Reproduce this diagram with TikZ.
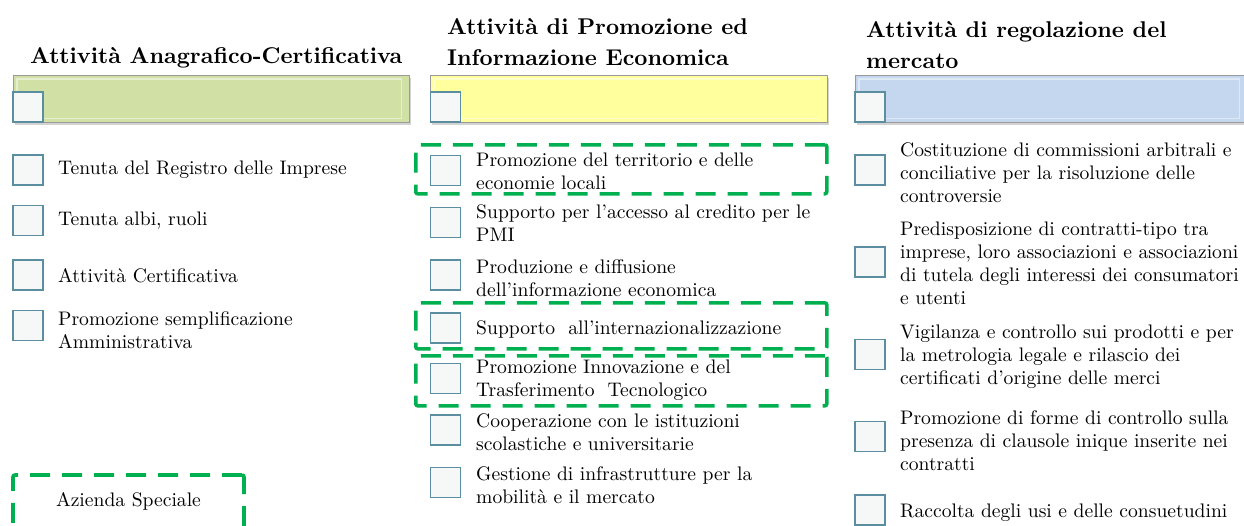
\documentclass[tikz,border=0pt]{standalone}
\usepackage{fontspec}
\setmainfont{lmroman10}[Extension=.otf, UprightFont=*-regular, BoldFont=*-bold, ItalicFont=*-italic, BoldItalicFont=*-bolditalic]
\usetikzlibrary{shadows}
\definecolor{bargreen}{HTML}{D1E1A6}
\definecolor{baryellow}{HTML}{FFFF9E}
\definecolor{barblue}{HTML}{C4D7EE}
\definecolor{sqedge}{HTML}{5A8EA0}
\definecolor{sqfill}{HTML}{F6F8F8}
\definecolor{dgreen}{HTML}{00B050}
\definecolor{bedge}{HTML}{9A9A9A}
\begin{document}
\begin{tikzpicture}[x=1pt,y=-1pt,
  bar/.style={draw=bedge, line width=0.8pt, minimum height=47pt, anchor=north west, inner sep=0pt,
    drop shadow={opacity=0.35, shadow xshift=2pt, shadow yshift=-3pt}},
  bevel/.style={draw=white, draw opacity=0.45, line width=1.2pt},
  sq/.style={draw=sqedge, fill=sqfill, line width=1.4pt, minimum width=30pt, minimum height=30pt, inner sep=0pt},
  item/.style={anchor=west, inner sep=0pt, align=left, font=\fontsize{19.6}{23}\selectfont},
  ttl/.style={anchor=west, inner sep=0pt, align=left, font=\fontsize{22.8}{31}\selectfont\bfseries},
  dbox/.style={draw=dgreen, line width=3.6pt, dash pattern=on 20pt off 12pt, rounded corners=2pt, anchor=north west, inner sep=0pt}
]
\useasboundingbox (0,0) rectangle (1244,525);

% titles
\node[ttl] (t1) at (30,58) {Attività Anagrafico-Certificativa};
\node[ttl] (t2) at (447,42) {Attività di Promozione ed\\Informazione Economica};
\node[ttl] (t3) at (866,45) {Attività di regolazione del\\mercato};

% header bars
\node[bar, fill=bargreen, minimum width=396pt] (b1) at (13,75) {};
\node[bar, fill=baryellow, minimum width=397pt] (b2) at (430,75) {};
\node[bar, fill=barblue, minimum width=392pt] (b3) at (855,75) {};
\draw[bevel] ([shift={(4,4)}]b1.north west) rectangle ([shift={(-8,-4)}]b1.south east);
\draw[bevel] ([shift={(4,4)}]b2.north west) rectangle ([shift={(-8,-4)}]b2.south east);
\draw[bevel] ([shift={(4,4)}]b3.north west) rectangle ([shift={(-8,-4)}]b3.south east);
\node[sq] (bs1) at (28,107) {};
\node[sq] (bs2) at (445.5,107) {};
\node[sq] (bs3) at (870,107) {};

% dashed boxes
\node[dbox, minimum width=411pt, minimum height=49pt] (d1) at (414,143) {};
\node[dbox, minimum width=411pt, minimum height=46pt] (d2) at (414,301) {};
\node[dbox, minimum width=411pt, minimum height=50pt] (d3) at (414,354) {};
\node[dbox, minimum width=231pt, minimum height=53pt, anchor=center, font=\fontsize{19.6}{23}\selectfont] (az) at (128.5,501.5) {Azienda Speciale};

% left column
\node[sq] (a1) at (28,170) {};
\node[item] (ta1) at (58,170) {Tenuta del Registro delle Imprese};
\node[sq] (a2) at (28,220.5) {};
\node[item] (ta2) at (58,221) {Tenuta albi, ruoli};
\node[sq] (a3) at (28,275) {};
\node[item] (ta3) at (58,276) {Attività Certificativa};
\node[sq] (a4) at (28,325.5) {};
\node[item] (ta4) at (58,330) {Promozione semplificazione\\Amministrativa};

% middle column
\node[sq] (m1) at (445.5,170.5) {};
\node[item] (tm1) at (476,171) {Promozione del territorio e delle\\economie locali};
\node[sq] (m2) at (445.5,222.5) {};
\node[item] (tm2) at (476,223) {Supporto per l’accesso al credito per le\\PMI};
\node[sq] (m3) at (445.5,275) {};
\node[item] (tm3) at (476,278) {Produzione e diffusione\\dell’informazione economica};
\node[sq] (m4) at (445.5,328) {};
\node[item] (tm4) at (476,329) {Supporto\ \ all’internazionalizzazione};
\node[sq] (m5) at (445.5,378.5) {};
\node[item] (tm5) at (476,380) {Promozione Innovazione e del\\Trasferimento\ \ Tecnologico};
\node[sq] (m6) at (445.5,430) {};
\node[item] (tm6) at (476,432) {Cooperazione con le istituzioni\\scolastiche e universitarie};
\node[sq] (m7) at (445.5,482.5) {};
\node[item] (tm7) at (476,485) {Gestione di infrastrutture per la\\mobilità e il mercato};

% right column
\node[sq] (r1) at (870,170) {};
\node[item] (tr1) at (900,173) {Costituzione di commissioni arbitrali e\\conciliative per la risoluzione delle\\controversie};
\node[sq] (r2) at (870,262) {};
\node[item] (tr2) at (900,263.5) {Predisposizione di contratti-tipo tra\\imprese, loro associazioni e associazioni\\di tutela degli interessi dei consumatori\\e utenti};
\node[sq] (r3) at (870,354.5) {};
\node[item] (tr3) at (900,356.5) {Vigilanza e controllo sui prodotti e per\\la metrologia legale e rilascio dei\\certificati d’origine delle merci};
\node[sq] (r4) at (870,436.5) {};
\node[item] (tr4) at (900,441) {Promozione di forme di controllo sulla\\presenza di clausole inique inserite nei\\contratti};
\node[sq] (r5) at (870,510) {};
\node[item] (tr5) at (900,513) {Raccolta degli usi e delle consuetudini};
\end{tikzpicture}
\end{document}
